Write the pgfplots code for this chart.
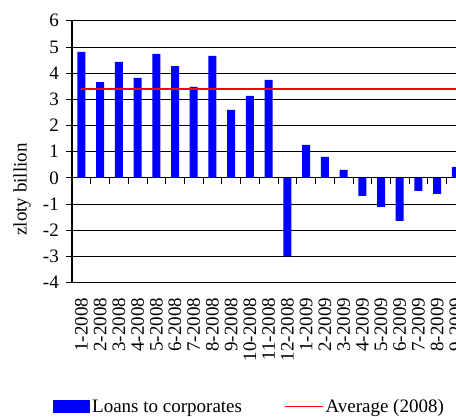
\documentclass[border=0pt]{standalone}
\usepackage{fontspec}
\setmainfont{Liberation Serif}
\usepackage{pgfplots}
\pgfplotsset{compat=1.18}
\newcommand{\bigf}{\fontsize{19}{22}\selectfont}
\begin{document}
\begin{tikzpicture}
\useasboundingbox (-72pt,-134.3pt) rectangle (384pt,282.7pt);
\begin{axis}[
  at={(0pt,0pt)}, anchor=south west,
  scale only axis, width=393.3pt, height=262pt,
  xmin=-0.5, xmax=20.5, ymin=-4, ymax=6,
  axis x line=middle, axis y line=left,
  x axis line style={-, line width=1.2pt},
  y axis line style={-, line width=1.2pt},
  xtick={-0.5,0.5,...,20.5}, xticklabels={},
  ytick={-4,-3,...,6}, yticklabels={-4,-3,-2,-1,0,1,2,3,4,5,6},
  /pgf/number format/assume math mode=true,
  tick align=outside, major tick length=6pt,
  tick style={black, line width=0.8pt},
  ymajorgrids, grid style={black, line width=0.8pt},
  yticklabel style={font=\bigf, inner sep=0pt, xshift=-7pt},
  ylabel={zloty billion},
  ylabel style={font=\bigf, at={(axis description cs:-0.127,0.356)}, anchor=center},
]
\end{axis}
\begin{axis}[
  at={(0pt,0pt)}, anchor=south west,
  scale only axis, width=393.3pt, height=262pt,
  xmin=-0.5, xmax=20.5, ymin=-4, ymax=6,
  axis y line=none, axis x line=bottom, x axis line style={draw=none},
  xtick={0,...,20},
  xticklabels={1-2008,2-2008,3-2008,4-2008,5-2008,6-2008,7-2008,8-2008,9-2008,10-2008,11-2008,12-2008,1-2009,2-2009,3-2009,4-2009,5-2009,6-2009,7-2009,8-2009,9-2009},
  /pgf/number format/assume math mode=true,
  major tick length=0pt,
  xticklabel style={rotate=90, anchor=east, font=\bigf, inner sep=0pt},
  xticklabel shift=15pt,
  legend style={at={(axis description cs:-0.0483,-0.473)}, anchor=west, draw=none, fill=none,
    inner sep=0pt, font=\bigf, legend columns=2,
    /tikz/every even column/.append style={column sep=40pt}},
  legend cell align=left,
]
\addplot[ybar, bar width=8pt, bar shift=0pt, fill=blue, draw=none,
  legend image code/.code={\fill[blue] (0pt,-6.5pt) rectangle (37pt,6.5pt);}]
  coordinates {(0,4.81) (1,3.66) (2,4.43) (3,3.82) (4,4.73) (5,4.27) (6,3.47) (7,4.66)
   (8,2.60) (9,3.13) (10,3.74) (11,-3.00) (12,1.26) (13,0.80) (14,0.31) (15,-0.69)
   (16,-1.11) (17,-1.64) (18,-0.50) (19,-0.61) (20,0.42)};
\addlegendentry{Loans to corporates}
\addplot[red, line width=2pt, sharp plot, mark=none,
  legend image code/.code={\draw[red, line width=1.5pt] (0pt,0pt) -- (38pt,0pt);}]
  coordinates {(0,3.38) (20.5,3.38)};
\addlegendentry{Average (2008)}
\end{axis}
\end{tikzpicture}
\end{document}
